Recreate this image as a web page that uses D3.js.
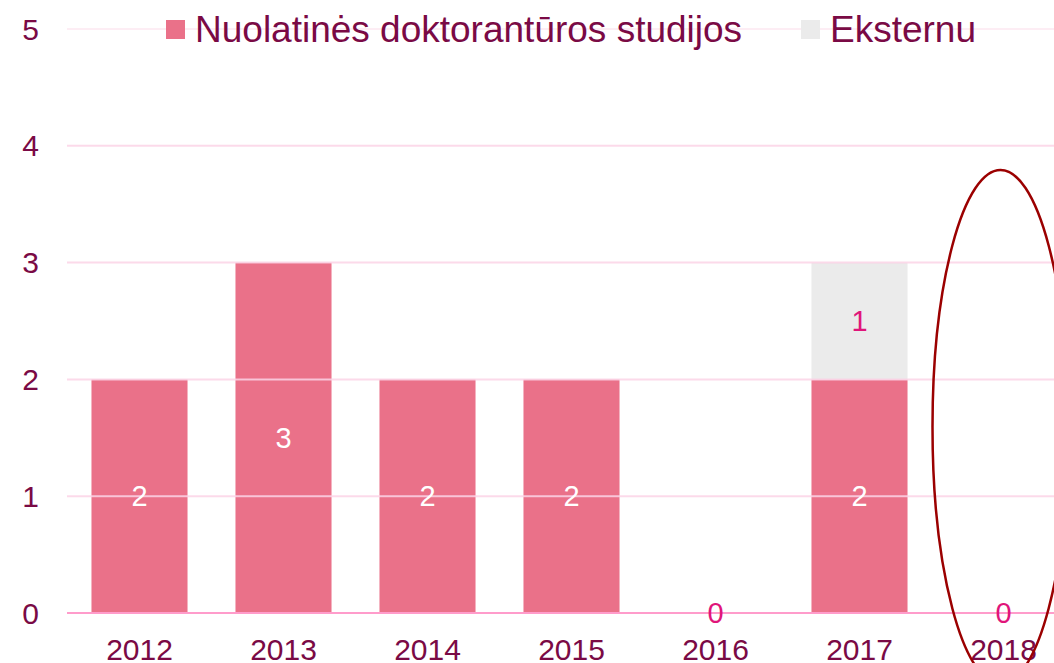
<!DOCTYPE html>
<html>
<head>
<meta charset="utf-8">
<script src="https://cdn.jsdelivr.net/npm/d3@7"></script>
<style>
  html, body { margin: 0; padding: 0; background: #fff; }
  svg { display: block; font-family: "Liberation Sans", Arial, sans-serif; }
</style>
</head>
<body>
<svg id="chart" width="1054" height="663"></svg>
<script>
const years = ['2012', '2013', '2014', '2015', '2016', '2017', '2018'];
const nuolatines = [2, 3, 2, 2, 0, 2, 0];
const eksternu = [0, 0, 0, 0, 0, 1, 0];
const seriesNames = ['Nuolatinės doktorantūros studijos', 'Eksternu'];
const yTicks = [0, 1, 2, 3, 4, 5];

const colors = ['#ea7189', '#ebebeb'];
const labelColors = ['#ffffff', '#e0157a'];
const textColor = '#7a0a45';

const width = 1054, height = 663;
const svg = d3.select('#chart');

const x = d3.scaleBand().domain(years).range([67.5, 1075.5]).paddingInner(0.333).paddingOuter(0.1665);
const y = d3.scaleLinear().domain([0, 5]).range([613, 29]);

const rows = years.map((yr, i) => ({ year: yr, s0: nuolatines[i], s1: eksternu[i] }));
const stacked = d3.stack().keys(['s0', 's1'])(rows);

// bars
stacked.forEach((layer, k) => {
  svg.append('g')
    .selectAll('rect')
    .data(layer.filter(d => d[1] - d[0] > 0))
    .join('rect')
    .attr('x', d => x(d.data.year))
    .attr('width', x.bandwidth())
    .attr('y', d => y(d[1]))
    .attr('height', d => y(d[0]) - y(d[1]))
    .attr('fill', colors[k]);
});

// grid lines (drawn over bars, faint)
svg.append('g')
  .selectAll('line')
  .data(yTicks)
  .join('line')
  .attr('x1', 67).attr('x2', width)
  .attr('y1', d => y(d)).attr('y2', d => y(d))
  .attr('stroke', d => d === 0 ? '#ff9ccb' : (d === 5 ? '#fdeaf2' : '#fcd3e6'))
  .attr('stroke-opacity', d => d === 0 ? 1 : 0.85)
  .attr('stroke-width', 2);

// y tick labels
svg.append('g')
  .selectAll('text')
  .data(yTicks)
  .join('text')
  .attr('x', 39)
  .attr('y', d => y(d))
  .attr('dy', '0.35em')
  .attr('text-anchor', 'end')
  .attr('font-size', 30)
  .attr('fill', textColor)
  .text(d => d);

// x labels
svg.append('g')
  .selectAll('text')
  .data(years)
  .join('text')
  .attr('x', d => x(d) + x.bandwidth() / 2)
  .attr('y', 660)
  .attr('text-anchor', 'middle')
  .attr('font-size', 30)
  .attr('fill', textColor)
  .text(d => d);

// value labels
const labels = [];
rows.forEach(r => {
  if (r.s0 > 0) labels.push({ year: r.year, v: r.s0, pos: r.s0 / 2, c: labelColors[0] });
  if (r.s1 > 0) labels.push({ year: r.year, v: r.s1, pos: r.s0 + r.s1 / 2, c: labelColors[1] });
  if (r.s0 + r.s1 === 0) labels.push({ year: r.year, v: 0, pos: 0, c: labelColors[1] });
});
svg.append('g')
  .selectAll('text')
  .data(labels)
  .join('text')
  .attr('x', d => x(d.year) + x.bandwidth() / 2)
  .attr('y', d => y(d.pos))
  .attr('dy', '0.35em')
  .attr('text-anchor', 'middle')
  .attr('font-size', 29)
  .attr('fill', d => d.c)
  .text(d => d.v);

// legend
const legendX = [166, 801];
const legend = svg.append('g');
seriesNames.forEach((name, i) => {
  legend.append('rect')
    .attr('x', legendX[i]).attr('y', 20)
    .attr('width', 19).attr('height', 19)
    .attr('fill', colors[i]);
  legend.append('text')
    .attr('x', legendX[i] + 29).attr('y', 42)
    .attr('font-size', 37)
    .attr('fill', textColor)
    .text(name);
});

// highlight ellipse around 2018
svg.append('ellipse')
  .attr('cx', x('2018') + x.bandwidth() / 2 - 3)
  .attr('cy', 427)
  .attr('rx', 68)
  .attr('ry', 257)
  .attr('fill', 'none')
  .attr('stroke', '#9b0000')
  .attr('stroke-width', 2.5);
</script>
</body>
</html>
